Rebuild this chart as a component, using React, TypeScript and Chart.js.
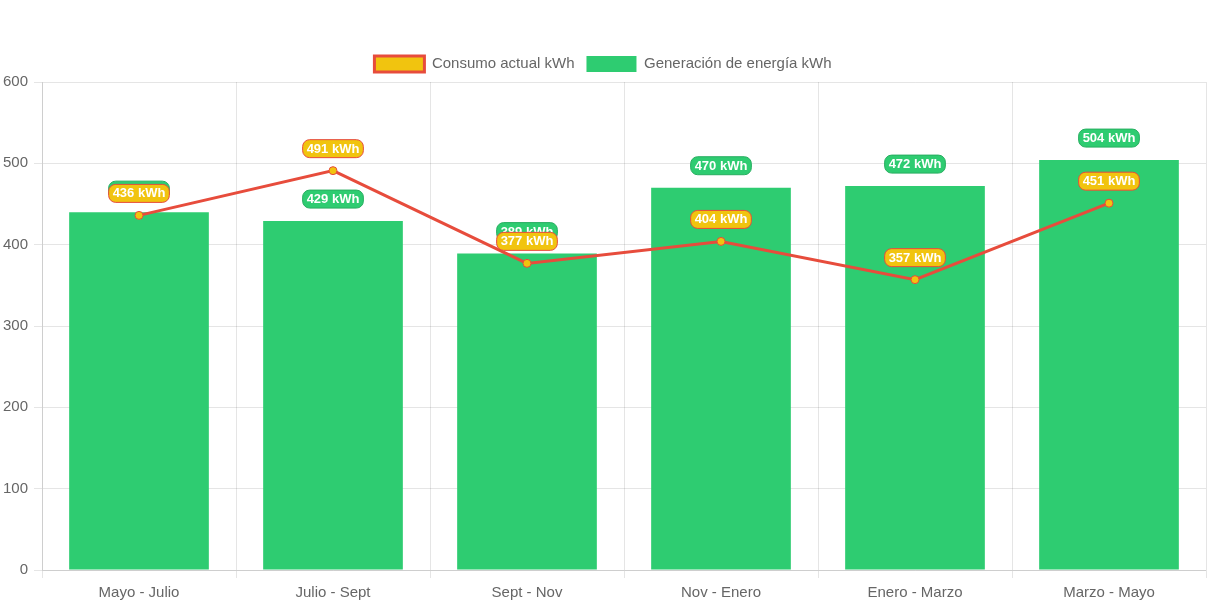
import React, { useEffect, useRef } from "react";
import { Chart, registerables } from "chart.js";

Chart.register(...registerables);

const categories = ["Mayo - Julio", "Julio - Sept", "Sept - Nov", "Nov - Enero", "Enero - Marzo", "Marzo - Mayo"];
const consumo = [436, 491, 377, 404, 357, 451];
const generacion = [440, 429, 389, 470, 472, 504];
const unit = "kWh";

const RED = "#e74c3c";
const YELLOW = "#f1c40f";
const GREEN = "#2ecc71";
const GREEN_DARK = "#27ae60";

const labelPlugin = {
  id: "valueLabels",
  afterDatasetsDraw(chart: any) {
    const ctx = chart.ctx;
    const order = [1, 0];
    ctx.save();
    ctx.font = "bold 13px 'Helvetica Neue', Helvetica, Arial, sans-serif";
    ctx.textAlign = "center";
    ctx.textBaseline = "middle";
    for (const di of order) {
      const ds = chart.data.datasets[di];
      const meta = chart.getDatasetMeta(di);
      const fill = di === 0 ? YELLOW : GREEN;
      const stroke = di === 0 ? RED : GREEN_DARK;
      meta.data.forEach((el: any, i: number) => {
        const text = `${ds.data[i]} ${unit}`;
        const w = ctx.measureText(text).width + 8;
        const h = 18;
        const cx = el.x;
        const cy = el.y - 22;
        const x = cx - w / 2;
        const y = cy - h / 2;
        const r = 7;
        ctx.beginPath();
        ctx.moveTo(x + r, y);
        ctx.lineTo(x + w - r, y);
        ctx.arcTo(x + w, y, x + w, y + r, r);
        ctx.lineTo(x + w, y + h - r);
        ctx.arcTo(x + w, y + h, x + w - r, y + h, r);
        ctx.lineTo(x + r, y + h);
        ctx.arcTo(x, y + h, x, y + h - r, r);
        ctx.lineTo(x, y + r);
        ctx.arcTo(x, y, x + r, y, r);
        ctx.closePath();
        ctx.fillStyle = fill;
        ctx.fill();
        ctx.lineWidth = 1;
        ctx.strokeStyle = stroke;
        ctx.stroke();
        ctx.fillStyle = "#ffffff";
        ctx.fillText(text, cx, cy + 0.5);
      });
    }
    ctx.restore();
  },
};

export default function App() {
  const ref = useRef<HTMLCanvasElement>(null);
  useEffect(() => {
    document.body.style.margin = "0";
    const chart = new Chart(ref.current as HTMLCanvasElement, {
      type: "bar",
      data: {
        labels: categories,
        datasets: [
          {
            type: "line",
            label: "Consumo actual kWh",
            data: consumo,
            borderColor: RED,
            backgroundColor: YELLOW,
            borderWidth: 3,
            pointRadius: 4,
            pointBackgroundColor: YELLOW,
            pointBorderColor: RED,
            pointBorderWidth: 1,
            tension: 0,
            fill: false,
          } as any,
          {
            type: "bar",
            label: "Generación de energía kWh",
            data: generacion,
            backgroundColor: GREEN,
            borderWidth: 0,
          },
        ],
      },
      options: {
        responsive: false,
        animation: false,
        layout: { padding: { top: 44, right: 7, bottom: -2, left: 0 } },
        plugins: {
          legend: {
            position: "top",
            labels: { boxWidth: 50, boxHeight: 16, padding: 12, font: { size: 15 }, color: "#666" },
          },
          tooltip: { enabled: false },
        },
        scales: {
          x: {
            ticks: { font: { size: 15 }, color: "#666", padding: 6 },
            grid: { color: "rgba(0,0,0,0.1)" },
          },
          y: {
            min: 0,
            max: 600,
            afterFit: (s: any) => {
              s.width = 42;
            },
            ticks: { stepSize: 100, font: { size: 15 }, color: "#666", padding: 6 },
            grid: { color: "rgba(0,0,0,0.1)" },
          },
        },
      },
      plugins: [labelPlugin],
    });
    return () => chart.destroy();
  }, []);
  return <canvas ref={ref} width={1213} height={606} style={{ display: "block" }} />;
}
